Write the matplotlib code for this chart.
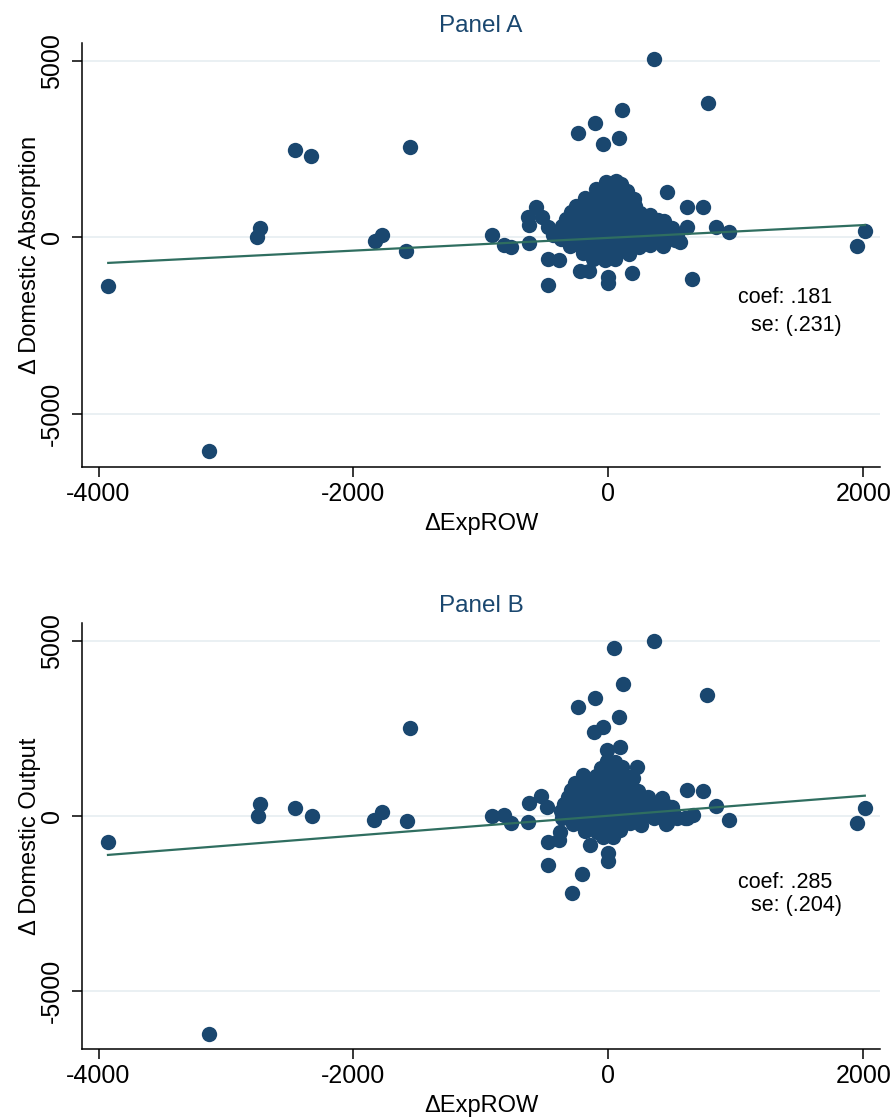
import numpy as np
import matplotlib
matplotlib.use("Agg")
import matplotlib.pyplot as plt

plt.rcParams["font.family"] = ["Liberation Sans", "DejaVu Sans"]

NAVY = "#1a476f"
FIT = "#2f6e60"
GRID = "#e8eff2"

# ---- Panel A: scattered points away from the core
a_out_x = [-3924, -3137, -2755, -2730, -2457, -2332, -1830, -1775, -1587, -1555,
           -910, -818, -766, -622, -622, -627, -569, -522, -470, -431,
           -470, -386, -475, -222, -151, -2, -2, 183, 654,
           458, 620, 746, 620, 845, 947, 562, 2013, 1953,
           358, 780, 110, -104, -235, -44, 84]
a_out_y = [-1380, -6057, 10, 260, 2476, 2306, -105, 65, -388, 2561,
           67, -225, -270, -169, 350, 586, 870, 586, 302, 67,
           -614, -642, -1350, -956, -956, -1115, -1304, -1020, -1190,
           1295, 870, 851, 302, 302, 160, -123, 189, -245,
           5056, 3818, 3610, 3251, 2968, 2646, 2806]

# ---- Panel A: dense core
a_core_x = [-20, 60, 100,
            -100, 0, 80, 150,
            -180, -80, 20, 110, 200,
            -250, -150, -50, 40, 130, 210,
            -290, -200, -110, -20, 70, 160, 250, 330,
            -330, -240, -150, -60, 30, 120, 210, 300, 390, 440,
            -360, -270, -180, -90, 0, 90, 180, 270, 360, 450, 500,
            -380, -300, -210, -120, -30, 60, 150, 240, 330, 420, 500, 540,
            -370, -280, -190, -100, -10, 80, 170, 260, 350, 440, 520,
            -300, -210, -120, -30, 60, 150, 240, 330, 430,
            -200, -110, -20, 70, 160,
            -120, -30, 50]
a_core_y = [1560, 1600, 1500,
            1380, 1340, 1400, 1320,
            1130, 1180, 1150, 1120, 1100,
            900, 960, 940, 980, 920, 880,
            730, 760, 780, 720, 760, 740, 700, 640,
            520, 560, 540, 580, 530, 560, 520, 560, 480, 450,
            330, 360, 340, 380, 350, 320, 370, 340, 310, 300, 260,
            140, 160, 130, 170, 150, 120, 160, 140, 170, 130, 120, 80,
            -60, -30, -70, -40, -50, -20, -60, -30, -70, -40, -80,
            -240, -270, -230, -280, -250, -220, -260, -230, -250,
            -430, -470, -450, -420, -460,
            -610, -640, -600]

# ---- Panel B: scattered points away from the core
b_out_x = [-3926, -3137, -2732, -2750, -2455, -2326, -1835, -1773, -1581, -1555,
           -915, -815, -767, -627, -622, -528, -484,
           -470, -386, -379, -470, -209, -287, -146, -2, -2,
           360, 42, 113, 777, -102, -235, 84, -39, -110, 92, -8, 227, 196,
           620, 745, 845, 947, 615, 662, 458, 2012, 1953]
b_out_y = [-744, -6228, 326, -9, 211, -9, -123, 97, -160, 2510,
           -9, 10, -210, -171, 352, 571, 237,
           -744, -696, -457, -1411, -1669, -2221, -839, -1078, -1288,
           4983, 4791, 3769, 3455, 3360, 3102, 2816, 2530, 2404, 1958, 1880, 1385, 1070,
           735, 716, 278, -123, -74, 20, -218, 229, -218]

# ---- Panel B: dense core
b_core_x = [-10, 50,
            -60, 30, 110,
            -200, -100, -10, 80, 170,
            -260, -170, -80, 10, 100, 180,
            -290, -200, -110, -20, 70, 160, 230,
            -320, -230, -140, -50, 40, 130, 220, 310, 420,
            -350, -260, -170, -80, 10, 100, 190, 280, 370, 460, 500,
            -370, -290, -200, -110, -20, 70, 160, 250, 340, 430, 510,
            -360, -270, -180, -90, 0, 90, 180, 270, 360, 450, 540, 600,
            -280, -190, -100, -10, 80, 170, 260, 450,
            -180, -90, 0, 90,
            -40, 40]
b_core_y = [1560, 1520,
            1360, 1320, 1380,
            1160, 1120, 1180, 1140, 1100,
            930, 970, 940, 990, 950, 900,
            740, 780, 760, 730, 770, 750, 700,
            540, 570, 550, 590, 530, 560, 600, 540, 500,
            330, 370, 350, 380, 340, 320, 360, 340, 310, 290, 250,
            140, 160, 130, 170, 150, 120, 160, 140, 150, 120, 110,
            -60, -30, -70, -40, -50, -20, -60, -30, -70, -40, -80, -60,
            -240, -270, -230, -280, -250, -220, -260, -230,
            -440, -470, -450, -420,
            -600, -620]

# fitted lines: intercept, slope
a_fit = (-14, 0.181)
b_fit = (-2, 0.285)
a_stats = ("coef: .181", "se: (.231)")
b_stats = ("coef: .285", "se: (.204)")

x_ticks = [-4000, -2000, 0, 2000]
y_ticks = [-5000, 0, 5000]


def draw_panel(ax, xs, ys, fit, stats, title, ylabel, ylim, txt_y):
    xs = np.array(xs, dtype=float)
    ys = np.array(ys, dtype=float)
    ax.scatter(xs, ys, s=122, color=NAVY, linewidths=0, zorder=3)
    xl = np.array([xs.min(), xs.max()])
    ax.plot(xl, fit[0] + fit[1] * xl, color=FIT, lw=1.6, zorder=4)

    ax.set_xlim(-4130, 2131)
    ax.set_ylim(*ylim)
    ax.set_xticks(x_ticks)
    ax.set_yticks(y_ticks)
    ax.set_xticklabels([str(t) for t in x_ticks])
    ax.set_yticklabels([str(t) for t in y_ticks], rotation=90, va="center")
    ax.yaxis.grid(True, color=GRID, lw=1.3, zorder=0)
    ax.set_axisbelow(True)
    for s in ["top", "right"]:
        ax.spines[s].set_visible(False)
    for s in ["left", "bottom"]:
        ax.spines[s].set_linewidth(1.1)
    ax.tick_params(axis="both", direction="out", length=7, width=1.1, labelsize=18)
    ax.tick_params(axis="x", pad=4)
    ax.tick_params(axis="y", pad=6)

    ax.set_title(title, color=NAVY, fontsize=17.5, pad=8)
    ax.set_xlabel("\u0394ExpROW", fontsize=17, labelpad=5)
    ax.set_ylabel(ylabel, fontsize=17, labelpad=-1)

    ax.text(0.822, txt_y[0], stats[0], transform=ax.transAxes, fontsize=15.5, ha="left", va="center")
    ax.text(0.838, txt_y[1], stats[1], transform=ax.transAxes, fontsize=15.5, ha="left", va="center")


fig = plt.figure(figsize=(8.94, 11.18), dpi=100)
ax_a = fig.add_axes([0.0917, 0.5823, 0.8926, 0.3792])
ax_b = fig.add_axes([0.0917, 0.0617, 0.8926, 0.3811])

draw_panel(ax_a, a_out_x + a_core_x, a_out_y + a_core_y, a_fit, a_stats,
           "Panel A", "\u0394 Domestic Absorption", (-6511, 5510), (0.399, 0.333))
draw_panel(ax_b, b_out_x + b_core_x, b_out_y + b_core_y, b_fit, b_stats,
           "Panel B", "\u0394 Domestic Output", (-6666, 5506), (0.390, 0.336))

fig.savefig("out.png", dpi=100)
